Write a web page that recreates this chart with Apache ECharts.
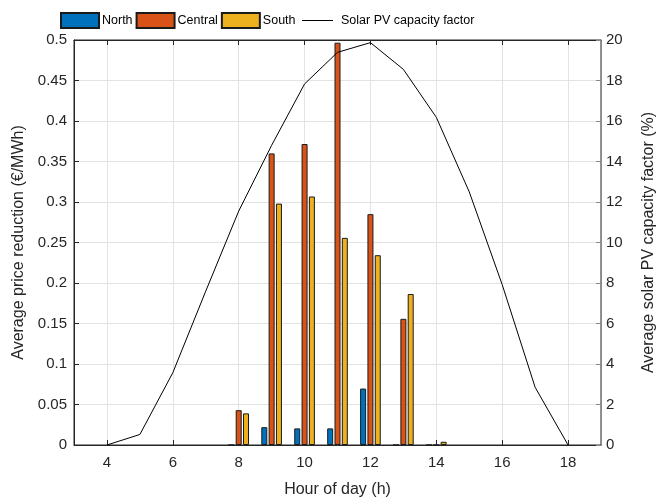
<!DOCTYPE html>
<html>
<head>
<meta charset="utf-8">
<script src="https://cdn.jsdelivr.net/npm/echarts@6/dist/echarts.min.js"></script>
<style>
html,body{margin:0;padding:0;background:#fff;}
#chart{width:668px;height:503px;}
</style>
</head>
<body>
<div id="chart"></div>
<script>
// ---- data ----
const hourTicks = [4, 6, 8, 10, 12, 14, 16, 18];
const barHours = [8, 9, 10, 11, 12, 13, 14];
const north   = [0, 0.022, 0.0205, 0.0205, 0.0697, 0, 0];
const central = [0.043, 0.360, 0.3716, 0.4967, 0.285, 0.1558, 0];
const south   = [0.039, 0.298, 0.3068, 0.2557, 0.2343, 0.1864, 0.004];
const pvHours = [4, 5, 6, 7, 8, 9, 10, 11, 12, 13, 14, 15, 16, 17, 18];
const solarPV = [0, 0.52, 3.57, 7.6, 11.55, 14.8, 17.83, 19.39, 19.87, 18.55, 16.18, 12.5, 7.92, 2.85, 0];

const FONT = "'Liberation Sans', Arial, Helvetica, sans-serif";
const TXT = '#262626';
const AX = '#262626';
const GRIDC = '#e3e3e3';

function pairs(xs, ys) { return xs.map((x, i) => [x, ys[i]]); }

const chart = echarts.init(document.getElementById('chart'), null, {renderer: 'canvas'});

const barCommon = {
  type: 'bar',
  xAxisIndex: 0,
  yAxisIndex: 0,
  barWidth: 6,
  barGap: '22%',
  emphasis: {disabled: true},
  animation: false
};

const option = {
  animation: false,
  textStyle: {fontFamily: FONT},
  grid: {left: 74, right: 67, top: 40, bottom: 49, show: true, borderColor: AX, borderWidth: 1, backgroundColor: 'transparent'},
  legend: [
    {
      data: ['North', 'Central', 'South'],
      left: 60, top: 12, padding: 0,
      icon: 'rect',
      itemWidth: 38, itemHeight: 15, itemGap: 3,
      textStyle: {fontSize: 12.5, color: '#000', fontFamily: FONT, padding: [0, 0, 0, -2]}
    },
    {
      data: [{name: 'Solar PV capacity factor', icon: 'rect', itemStyle: {color: '#000', borderWidth: 0}}],
      left: 302, top: 14, padding: 0,
      itemWidth: 31, itemHeight: 1,
      textStyle: {fontSize: 12.5, color: '#000', fontFamily: FONT, padding: [0, 0, 0, 3]}
    }
  ],
  xAxis: [
    {
      type: 'value', min: 3, max: 19,
      name: 'Hour of day (h)', nameLocation: 'middle', nameGap: 37,
      nameTextStyle: {fontSize: 16, color: TXT, fontFamily: FONT},
      axisLine: {show: true, onZero: false, lineStyle: {color: AX, width: 1}},
      axisTick: {show: true, inside: true, length: 5, customValues: hourTicks, lineStyle: {color: AX}},
      axisLabel: {fontSize: 15, color: TXT, margin: 10, customValues: hourTicks, fontFamily: FONT},
      splitLine: {show: true, lineStyle: {color: GRIDC, width: 1}}
    },
    {
      type: 'value', min: 3, max: 19, position: 'top',
      axisLine: {show: true, onZero: false, lineStyle: {color: AX, width: 1}},
      axisTick: {show: true, inside: true, length: 5, customValues: hourTicks, lineStyle: {color: AX}},
      axisLabel: {show: false, customValues: hourTicks},
      splitLine: {show: false}
    }
  ],
  yAxis: [
    {
      type: 'value', min: 0, max: 0.5, interval: 0.05,
      name: 'Average price reduction (€/MWh)', nameLocation: 'middle', nameGap: 40, nameRotate: 90,
      nameTextStyle: {fontSize: 16, color: TXT, fontFamily: FONT},
      axisLine: {show: true, onZero: false, lineStyle: {color: AX, width: 1}},
      axisTick: {show: true, inside: true, length: 5, lineStyle: {color: AX}},
      axisLabel: {fontSize: 15, color: TXT, margin: 7, fontFamily: FONT,
        formatter: v => String(+v.toFixed(2))},
      splitLine: {show: true, lineStyle: {color: GRIDC, width: 1}}
    },
    {
      type: 'value', min: 0, max: 20, interval: 2, position: 'right',
      name: 'Average solar PV capacity factor (%)', nameLocation: 'middle', nameGap: 40, nameRotate: 90,
      nameTextStyle: {fontSize: 16, color: TXT, fontFamily: FONT},
      axisLine: {show: true, onZero: false, lineStyle: {color: '#8a8a8a', width: 1}},
      axisTick: {show: true, inside: true, length: 5, lineStyle: {color: '#8a8a8a'}},
      axisLabel: {fontSize: 15, color: TXT, margin: 5, fontFamily: FONT},
      splitLine: {show: false}
    }
  ],
  series: [
    Object.assign({}, barCommon, {name: 'North', data: pairs(barHours, north), itemStyle: {color: '#0072BD', borderColor: '#1a1a1a', borderWidth: 1}}),
    Object.assign({}, barCommon, {name: 'Central', data: pairs(barHours, central), itemStyle: {color: '#D95319', borderColor: '#1a1a1a', borderWidth: 1}}),
    Object.assign({}, barCommon, {name: 'South', data: pairs(barHours, south), itemStyle: {color: '#EDB120', borderColor: '#1a1a1a', borderWidth: 1}}),
    {
      name: 'Solar PV capacity factor', type: 'line',
      xAxisIndex: 0, yAxisIndex: 1,
      data: pairs(pvHours, solarPV),
      symbol: 'none', showSymbol: false,
      lineStyle: {color: '#000', width: 1},
      itemStyle: {color: '#000'},
      emphasis: {disabled: true},
      z: 5
    }
  ]
};
chart.setOption(option);
</script>
</body>
</html>
